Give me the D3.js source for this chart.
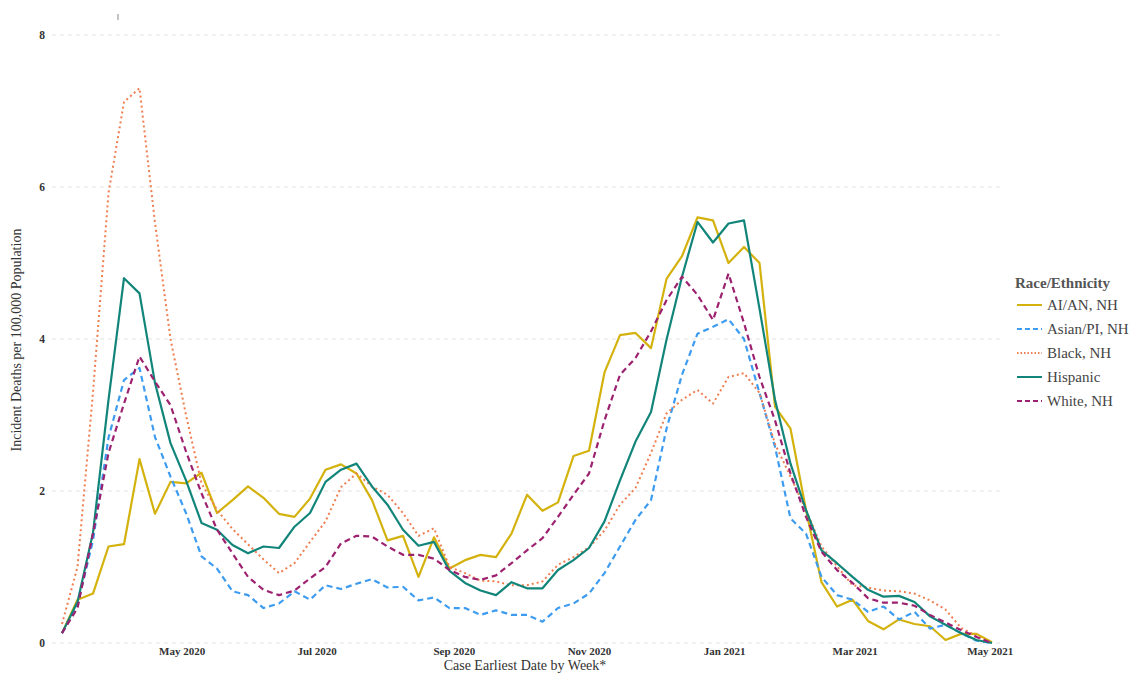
<!DOCTYPE html>
<html>
<head>
<meta charset="utf-8">
<script src="https://cdn.jsdelivr.net/npm/d3@7"></script>
<style>
  body { margin: 0; background: #fff; }
  text { font-family: "Liberation Serif", "Times New Roman", serif; }
</style>
</head>
<body>
<div id="chart"></div>
<script>
const width = 1142, height = 673

// weekly points, first week starts Sun Mar 8 2020, last Sun May 2 2021
const weekStart = new Date(2020, 2, 8)
const weekEnd = new Date(2021, 4, 3)

const aian = [0.13, 0.57, 0.65, 1.27, 1.30, 2.42, 1.70, 2.12, 2.10, 2.24, 1.71, 1.88, 2.06, 1.91, 1.70, 1.66,
  1.90, 2.28, 2.35, 2.23, 1.88, 1.35, 1.41, 0.87, 1.39, 0.98, 1.09, 1.16, 1.13, 1.44, 1.95, 1.74, 1.85, 2.46,
  2.53, 3.56, 4.05, 4.08, 3.88, 4.79, 5.09, 5.60, 5.56, 5.00, 5.21, 5.00, 3.11, 2.82, 1.75, 0.80, 0.48, 0.57,
  0.29, 0.18, 0.31, 0.25, 0.22, 0.04, 0.12, 0.12, 0.01]
const asian = [0.13, 0.50, 1.35, 2.70, 3.46, 3.62, 2.71, 2.19, 1.71, 1.14, 0.98, 0.68, 0.63, 0.46, 0.52, 0.68,
  0.57, 0.76, 0.71, 0.78, 0.84, 0.73, 0.74, 0.56, 0.60, 0.46, 0.46, 0.37, 0.43, 0.37, 0.37, 0.28, 0.46, 0.52,
  0.65, 0.92, 1.27, 1.62, 1.88, 2.82, 3.53, 4.07, 4.16, 4.26, 4.00, 3.29, 2.58, 1.64, 1.44, 0.87, 0.63, 0.57,
  0.41, 0.48, 0.31, 0.41, 0.19, 0.24, 0.13, 0.03, 0.00]
const black = [0.25, 1.00, 3.30, 5.92, 7.12, 7.30, 5.53, 4.00, 3.00, 2.10, 1.75, 1.50, 1.30, 1.10, 0.92, 1.05,
  1.33, 1.60, 2.05, 2.23, 2.06, 1.95, 1.71, 1.41, 1.51, 1.00, 0.92, 0.82, 0.81, 0.76, 0.76, 0.81, 1.03, 1.13,
  1.26, 1.48, 1.82, 2.04, 2.50, 3.02, 3.20, 3.33, 3.15, 3.50, 3.55, 3.29, 2.62, 2.19, 1.75, 1.27, 1.01, 0.76,
  0.73, 0.69, 0.68, 0.65, 0.56, 0.44, 0.20, 0.09, 0.00]
const hispanic = [0.13, 0.54, 1.45, 3.20, 4.80, 4.60, 3.42, 2.63, 2.14, 1.58, 1.49, 1.29, 1.18, 1.27, 1.25, 1.53,
  1.71, 2.12, 2.28, 2.36, 2.06, 1.82, 1.49, 1.28, 1.33, 0.95, 0.79, 0.69, 0.63, 0.80, 0.72, 0.72, 0.96, 1.09,
  1.25, 1.60, 2.14, 2.65, 3.04, 3.99, 4.82, 5.54, 5.27, 5.52, 5.56, 4.40, 3.20, 2.36, 1.75, 1.22, 1.05, 0.87,
  0.70, 0.61, 0.62, 0.54, 0.35, 0.24, 0.13, 0.04, 0.00]
const white = [0.13, 0.46, 1.44, 2.50, 3.15, 3.77, 3.44, 3.13, 2.52, 1.97, 1.49, 1.18, 0.87, 0.70, 0.63, 0.69,
  0.85, 1.00, 1.31, 1.41, 1.40, 1.27, 1.16, 1.16, 1.11, 0.96, 0.87, 0.83, 0.89, 1.05, 1.22, 1.38, 1.66, 1.95,
  2.23, 2.93, 3.53, 3.75, 4.10, 4.51, 4.82, 4.58, 4.25, 4.86, 4.21, 3.50, 2.93, 2.23, 1.66, 1.20, 0.96, 0.79,
  0.59, 0.53, 0.53, 0.49, 0.37, 0.27, 0.17, 0.08, 0.00]

const seriesNames = ["AI/AN, NH", "Asian/PI, NH", "Black, NH", "Hispanic", "White, NH"]
const seriesValues = [aian, asian, black, hispanic, white]
const yTicks = [0, 2, 4, 6, 8]

const colors = ["#d4b20e", "#3d9cf0", "#f07e50", "#12857a", "#9c2270"]
const dashes = [null, "6,4", "2,3", null, "6,4"]

const weeks = d3.timeWeek.range(weekStart, weekEnd)

const svg = d3.select("#chart")
    .append("svg")
    .attr("width", width)
    .attr("height", height)

const x = d3.scaleTime()
    .domain([weekStart, weeks[weeks.length - 1]])
    .range([62, 992])

const y = d3.scaleLinear()
    .domain([0, 8])
    .range([643, 35])

// grid
svg.append("g")
    .selectAll("line")
    .data(yTicks)
    .enter()
    .append("line")
    .attr("x1", 52)
    .attr("x2", 1000)
    .attr("y1", d => y(d))
    .attr("y2", d => y(d))
    .attr("stroke", "#e2e2e2")
    .attr("stroke-width", 1)
    .attr("stroke-dasharray", "4,4")

// y axis labels
const yAxis = svg.append("g")
    .attr("transform", "translate(47,0)")
    .call(d3.axisLeft(y).tickValues(yTicks).tickSize(0).tickPadding(2))
yAxis.select(".domain").remove()
yAxis.selectAll("text")
    .attr("font-family", "Liberation Serif")
    .attr("font-size", 11.5)
    .attr("font-weight", "bold")
    .attr("fill", "#333")

// x axis labels
const xAxis = svg.append("g")
    .attr("transform", "translate(0,644)")
    .call(d3.axisBottom(x).ticks(d3.timeMonth.every(2)).tickFormat(d3.timeFormat("%b %Y")).tickSize(0).tickPadding(3))
xAxis.select(".domain").remove()
xAxis.selectAll("text")
    .attr("font-family", "Liberation Serif")
    .attr("font-size", 11)
    .attr("font-weight", "bold")
    .attr("fill", "#333")

// lines
const line = d3.line()
    .x((d, i) => x(weeks[i]))
    .y(d => y(d))

svg.append("g")
    .selectAll("path")
    .data(seriesValues)
    .enter()
    .append("path")
    .attr("d", d => line(d))
    .attr("fill", "none")
    .attr("stroke", (d, i) => colors[i])
    .attr("stroke-width", (d, i) => i == 2 ? 2 : 2.2)
    .attr("stroke-dasharray", (d, i) => dashes[i])
    .attr("stroke-linejoin", "round")

// axis titles
svg.append("text")
    .text("Case Earliest Date by Week*")
    .attr("x", 525)
    .attr("y", 670)
    .attr("text-anchor", "middle")
    .attr("font-size", 14)
    .attr("fill", "#333")

svg.append("text")
    .text("Incident Deaths per 100,000 Population")
    .attr("transform", "translate(21,340) rotate(-90)")
    .attr("text-anchor", "middle")
    .attr("font-size", 14)
    .attr("fill", "#333")

// small mark at the top
svg.append("line")
    .attr("x1", 118).attr("x2", 118)
    .attr("y1", 14).attr("y2", 20)
    .attr("stroke", "#888")
    .attr("stroke-width", 1)

// legend
const legend = svg.append("g")
    .attr("transform", "translate(1015,0)")

legend.append("text")
    .text("Race/Ethnicity")
    .attr("x", 0)
    .attr("y", 288)
    .attr("font-size", 15)
    .attr("font-weight", "bold")
    .attr("fill", "#555")

legend.selectAll("line.key")
    .data(seriesNames)
    .enter()
    .append("line")
    .attr("class", "key")
    .attr("x1", 2)
    .attr("x2", 27)
    .attr("y1", (d, i) => 305 + i * 24)
    .attr("y2", (d, i) => 305 + i * 24)
    .attr("stroke", (d, i) => colors[i])
    .attr("stroke-width", 2)
    .attr("stroke-dasharray", (d, i) => dashes[i] == "2,3" ? "1.5,2" : (dashes[i] ? "5,3" : null))

legend.selectAll("text.key")
    .data(seriesNames)
    .enter()
    .append("text")
    .attr("class", "key")
    .attr("x", 32)
    .attr("y", (d, i) => 305 + i * 24)
    .attr("dy", "0.35em")
    .attr("font-size", 15)
    .attr("fill", "#444")
    .text(d => d)
</script>
</body>
</html>
